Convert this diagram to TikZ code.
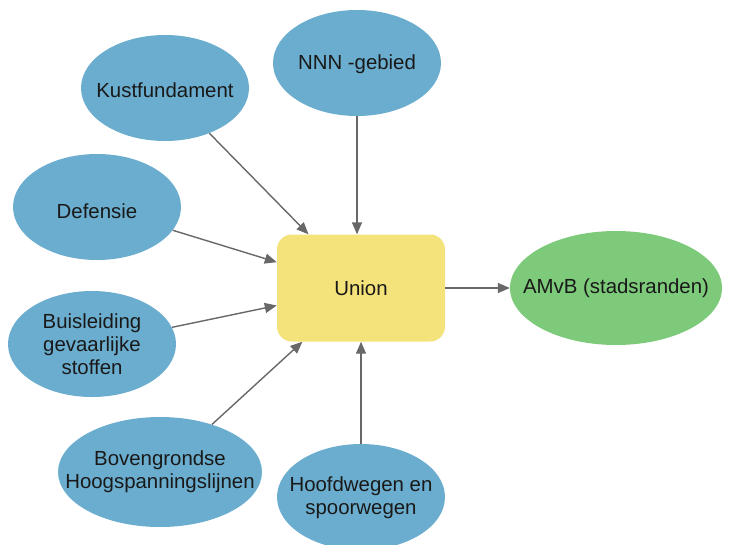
\documentclass[tikz,border=0pt]{standalone}
\usepackage{fontspec}
\setmainfont{Liberation Sans}
\usetikzlibrary{shapes.geometric,arrows.meta}
\definecolor{bluefill}{HTML}{6BADCE}
\definecolor{yellowfill}{HTML}{F4E27A}
\definecolor{greenfill}{HTML}{7DCA7B}
\definecolor{arrowgray}{HTML}{686868}
\tikzset{
  blob/.style={ellipse, draw=none, fill=bluefill, inner sep=0pt, minimum width=168pt, minimum height=106pt},
  lbl/.style={font=\fontsize{20.4}{23}\selectfont, align=center, inner sep=0pt, text=black!90},
  conn/.style={draw=arrowgray, line width=1.4pt, -{Triangle[length=12pt,width=10pt]}},
}
\begin{document}
\begin{tikzpicture}[x=1pt,y=-1pt]
\useasboundingbox (0,0) rectangle (735,544);
\node[rectangle, rounded corners=15pt, fill=yellowfill, minimum width=168pt, minimum height=107pt, inner sep=0pt] (union) at (361,288) {};
\node[lbl] (tunion) at (union.center) {Union};
\node[blob] (kust) at (165,88) {};
\node[lbl] (tkust) at ([yshift=-2pt]kust.center) {Kustfundament};
\node[blob] (nnn) at (357,63) {};
\node[lbl] (tnnn) at ([yshift=-1pt]nnn.center) {NNN -gebied};
\node[blob] (def) at (97,207) {};
\node[lbl] (tdef) at ([yshift=-4pt]def.center) {Defensie};
\node[blob] (buis) at (92,344) {};
\node[lbl] (tbuis) at (buis.center) {Buisleiding\\gevaarlijke\\stoffen};
\node[blob, minimum width=204pt, minimum height=110pt] (bov) at (160,472) {};
\node[lbl] (tbov) at (bov.center) {Bovengrondse\\Hoogspanningslijnen};
\node[blob] (hoof) at (361,497) {};
\node[lbl] (thoof) at ([yshift=-1pt]hoof.center) {Hoofdwegen en\\spoorwegen};
\node[ellipse, fill=greenfill, inner sep=0pt, minimum width=212pt, minimum height=114pt] (amvb) at (616,288) {};
\node[lbl] (tamvb) at (amvb.center) {AMvB (stadsranden)};
\draw[conn] (kust) -- (union);
\draw[conn] (nnn) -- (nnn |- union.north);
\draw[conn] (def) -- (union);
\draw[conn] (buis) -- (union);
\draw[conn] (bov) -- (union);
\draw[conn] (hoof) -- (hoof |- union.south);
\draw[conn] (union) -- (amvb);
\end{tikzpicture}
\end{document}
